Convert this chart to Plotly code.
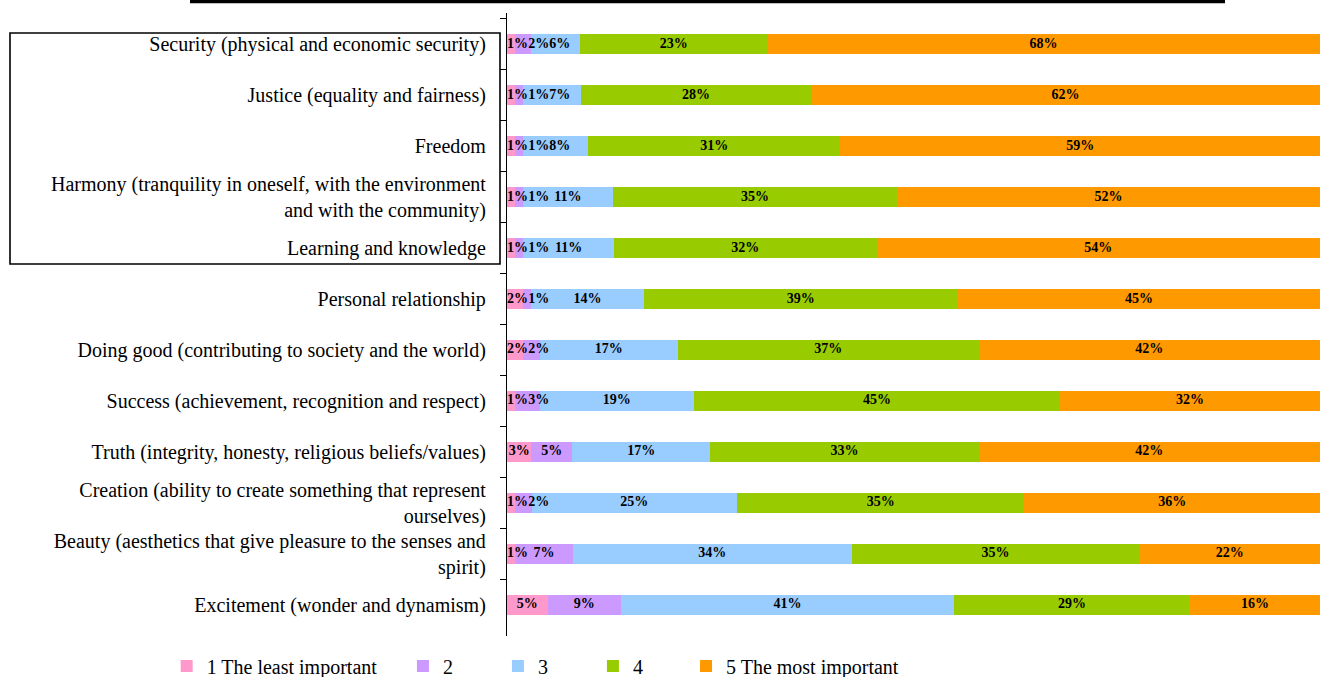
import numpy as np
import plotly.graph_objects as go

# Categories, top to bottom
categories = [
    "Security (physical and economic security)",
    "Justice (equality and fairness)",
    "Freedom",
    "Harmony (tranquility in oneself, with the environment<br>and with the community)",
    "Learning and knowledge",
    "Personal relationship",
    "Doing good (contributing to society and the world)",
    "Success (achievement, recognition and respect)",
    "Truth (integrity, honesty, religious beliefs/values)",
    "Creation (ability to create something that represent<br>ourselves)",
    "Beauty (aesthetics that give pleasure to the senses and<br>spirit)",
    "Excitement (wonder and dynamism)",
]

levels = ["1 The least important", "2", "3", "4", "5 The most important"]

# Share of respondents (%) per importance level
share_1 = [1, 1, 1, 1, 1, 2, 2, 1, 3, 1, 1, 5]
share_2 = [2, 1, 1, 1, 1, 1, 2, 3, 5, 2, 7, 9]
share_3 = [6, 7, 8, 11, 11, 14, 17, 19, 17, 25, 34, 41]
share_4 = [23, 28, 31, 35, 32, 39, 37, 45, 33, 35, 35, 29]
share_5 = [68, 62, 59, 52, 54, 45, 42, 32, 42, 36, 22, 16]

colors = ["#FF99CC", "#CC99FF", "#99CCFF", "#99CC00", "#FF9900"]

FONT = "Liberation Serif, Times New Roman, serif"
series = [share_1, share_2, share_3, share_4, share_5]

# legend group per level: long first/last entries get their own legend,
# the short middle entries share an evenly spaced one
legend_of = ["legend", "legend2", "legend2", "legend2", "legend3"]

fig = go.Figure()

for name, vals, col, lg in zip(levels, series, colors, legend_of):
    fig.add_trace(go.Bar(
        y=categories, x=vals, name=name, orientation="h",
        marker=dict(color=col, line=dict(width=0)),
        legend=lg, hoverinfo="skip",
    ))

# Segment labels: placed at segment midpoints (normalised to 100%),
# nudged right so neighbouring small labels do not collide.
vals = np.array(series, dtype=float)            # shape (5, n)
norm = vals / vals.sum(axis=0) * 100
right = np.cumsum(norm, axis=0)
mids = right - norm / 2
min_sep = 2.6
pos = np.zeros_like(mids)
for j in range(mids.shape[1]):
    prev = -np.inf
    for i in range(mids.shape[0]):
        c = mids[i, j]
        if i == 0:
            c = max(c, 1.3)
        c = max(c, prev + min_sep)
        pos[i, j] = c
        prev = c

lab_x, lab_y, lab_t = [], [], []
for i in range(vals.shape[0]):
    for j in range(vals.shape[1]):
        lab_x.append(pos[i, j])
        lab_y.append(categories[j])
        lab_t.append(f"{int(vals[i, j])}%")

fig.add_trace(go.Scatter(
    x=lab_x, y=lab_y, text=lab_t, mode="text",
    textfont=dict(family=FONT, size=14, color="black", weight="bold"),
    showlegend=False, hoverinfo="skip", cliponaxis=False,
))

legend_common = dict(
    orientation="h", xanchor="left", y=-0.048, yanchor="middle",
    font=dict(family=FONT, size=20), bgcolor="rgba(0,0,0,0)",
    traceorder="normal",
)

fig.update_layout(
    width=1320, height=677,
    barmode="stack", barnorm="percent", bargap=0.595,
    plot_bgcolor="white", paper_bgcolor="white",
    margin=dict(l=507, r=0, t=13, b=41, autoexpand=False),
    font=dict(family=FONT, size=20, color="black"),
    xaxis=dict(visible=False, range=[0, 100], fixedrange=True),
    yaxis=dict(
        autorange="reversed", type="category",
        showline=True, linecolor="black", linewidth=1.3,
        ticks="outside", tickson="boundaries", ticklen=6, tickcolor="black",
        tickwidth=1, ticklabelstandoff=16,
        tickfont=dict(family=FONT, size=20, color="black"),
        showgrid=False, zeroline=False,
    ),
    legend=dict(x=-0.4186, **legend_common),
    legend2=dict(x=-0.128, entrywidth=50, entrywidthmode="pixels",
                 **legend_common),
    legend3=dict(x=0.2202, **legend_common),
    showlegend=True,
    shapes=[
        # frame around the leading group of labels
        dict(type="rect", xref="paper", yref="paper",
             x0=(10 - 507) / 813, x1=(500 - 507) / 813,
             y0=(636 - 264) / 623, y1=(636 - 33) / 623,
             line=dict(color="black", width=1.6), fillcolor="rgba(0,0,0,0)"),
        # heavy rule along the top edge
        dict(type="line", xref="paper", yref="paper",
             x0=(190 - 507) / 813, x1=(1225 - 507) / 813,
             y0=(636 - 1.5) / 623, y1=(636 - 1.5) / 623,
             line=dict(color="black", width=3.5)),
    ],
)

fig.write_html("out.html")
